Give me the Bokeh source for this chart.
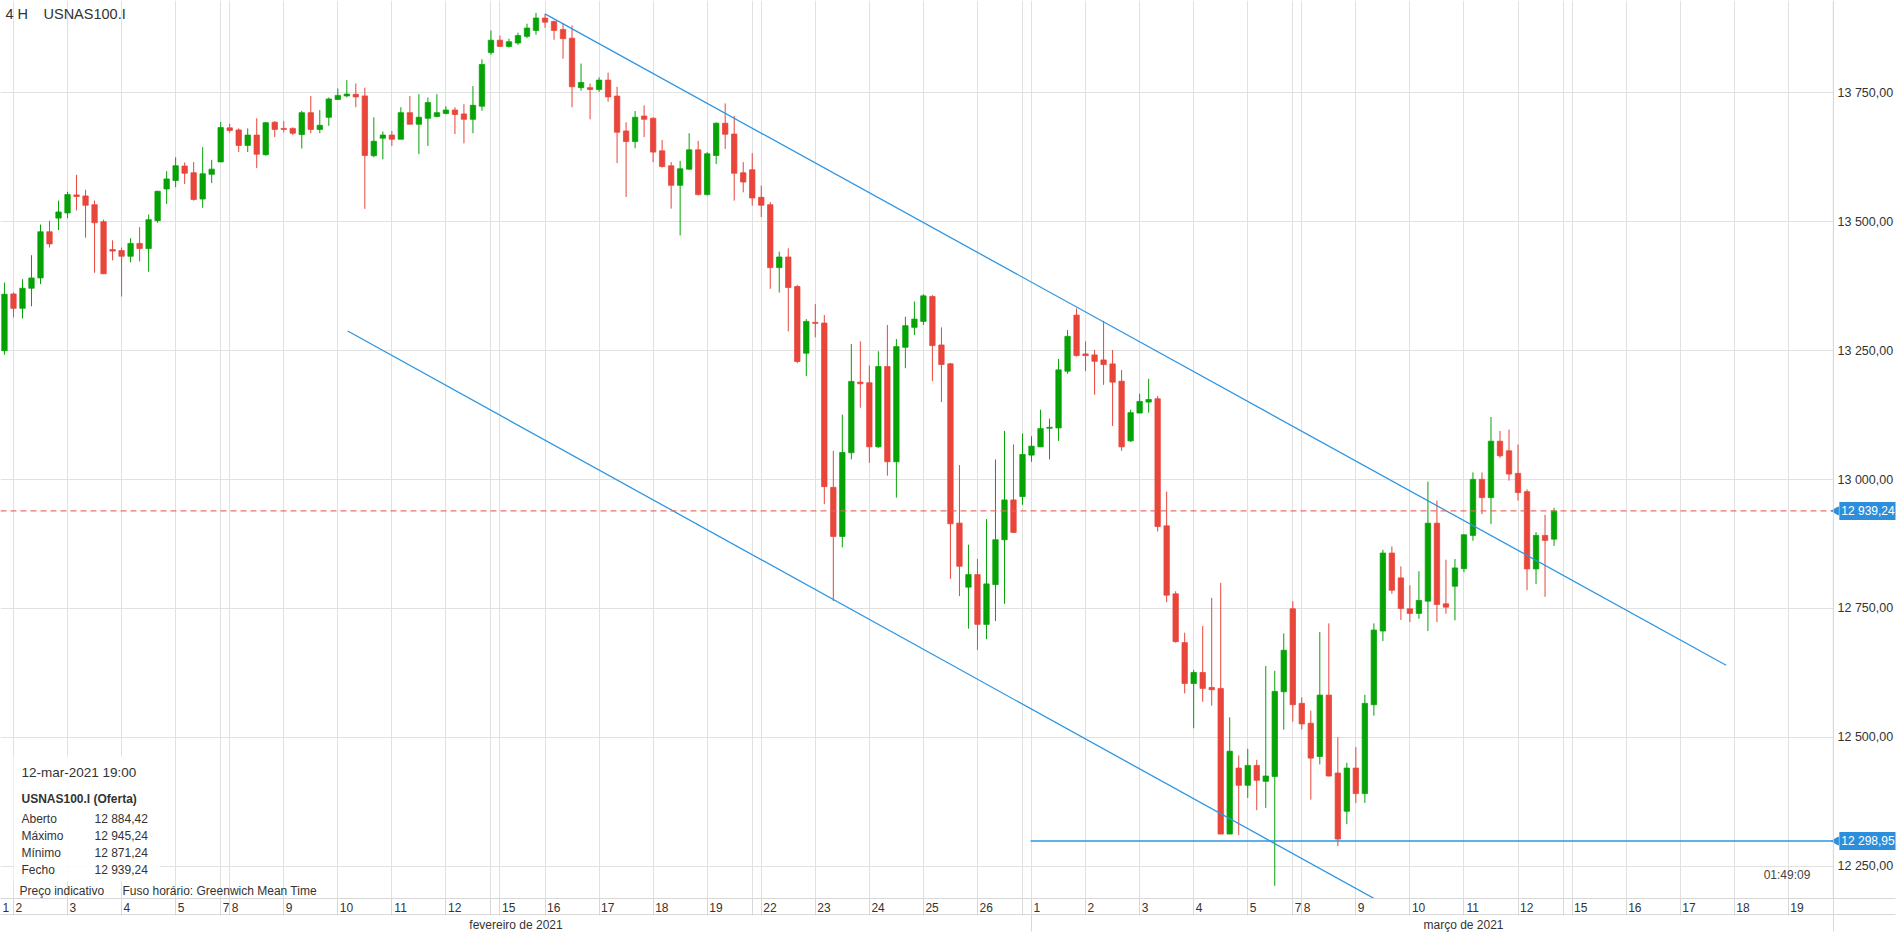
import numpy as np
from bokeh.plotting import figure
from bokeh.models import (Range1d, FixedTicker, LinearAxis, Label, Span,
                          BoxAnnotation, ColumnDataSource)
from bokeh.embed import file_html
from bokeh.resources import INLINE

FONT = "Liberation Sans"

# ---------------- data (4H candles, USNAS100.I, 1 Feb 23:00 -> 12 Mar 19:00) -------------
opens = [13250, 13360, 13332, 13371, 13391, 13480.5, 13507, 13517, 13552, 13550,
         13533, 13500, 13446, 13444, 13433, 13458, 13448, 13502, 13563.5, 13580,
         13608, 13595, 13544, 13592, 13616, 13682, 13678, 13648, 13668, 13630,
         13693, 13681, 13681, 13669, 13711.5, 13679, 13702.5, 13737, 13744, 13747,
         13744, 13628, 13662, 13668, 13660, 13711.5, 13689, 13700.6, 13704, 13710,
         13716.6, 13709, 13698.6, 13724, 13828, 13852, 13840, 13846.6, 13859.5, 13871,
         13895, 13888.5, 13873, 13856, 13760, 13760, 13756.5, 13774.6, 13743.7, 13676,
         13655.5, 13705, 13700.6, 13637.5, 13608.5, 13570.6, 13602, 13639.4, 13552.6, 13628.5,
         13691, 13670, 13595, 13600.8, 13547.4, 13533, 13411, 13431.6, 13374.3, 13245,
         13304.8, 13303.5, 12985, 12889.7, 13052, 13189, 13187.7, 13063.5, 13219.2, 13034.5,
         13256.5, 13295.2, 13306.7, 13355, 13261, 13224.4, 12915.5, 12791.3, 12815.7, 12719.2,
         12796.4, 12883.3, 12960.5, 12967, 13047.4, 13063.4, 13099.4, 13100.1, 13210.1, 13318.9,
         13243.6, 13241.7, 13232, 13224.3, 13190.8, 13075, 13129, 13150.3, 13156.7, 12910.3,
         12778.4, 12683.8, 12604.6, 12625.9, 12596.9, 12595, 12312.5, 12440.5, 12407.1, 12445.7,
         12414.8, 12424.4, 12588.5, 12749.4, 12566, 12527.4, 12463, 12582.1, 12430.9, 12356.9,
         12440.5, 12391, 12563.4, 12706.3, 12857.5, 12809.3, 12749.4, 12740.4, 12764.2, 12915.4,
         12759.1, 12793.2, 12827.3, 12891.7, 13000.4, 12965, 13074.4, 13055.8, 13012, 12976.6,
         12826.7, 12891.7, 12884.42]
highs = [13382, 13363, 13388.5, 13435, 13494.6, 13502, 13541, 13558, 13591, 13562,
         13541, 13504, 13464, 13450, 13468, 13489.5, 13514, 13560, 13598, 13625,
         13615, 13616, 13644.6, 13620, 13693.5, 13690, 13681, 13681, 13700.6, 13693.5,
         13695, 13695, 13683, 13715, 13743.7, 13716.6, 13741, 13758.5, 13774.6, 13768,
         13760, 13702.5, 13675, 13676, 13722, 13743.7, 13747.5, 13741, 13747.5, 13724,
         13722, 13728, 13763, 13815, 13871, 13861, 13855, 13866.6, 13884, 13905,
         13903, 13890, 13885, 13880.7, 13806.7, 13768, 13780, 13789, 13761.7, 13692.8,
         13714.7, 13725.7, 13702.5, 13658.7, 13615.6, 13618, 13671.6, 13656.8, 13635, 13692.8,
         13729.5, 13705, 13615.6, 13633, 13570, 13538, 13442, 13448.3, 13377.5, 13311.2,
         13340.2, 13319, 13055.8, 13125.9, 13263, 13268, 13221, 13248.8, 13299.7, 13272.6,
         13315.7, 13345.3, 13359.5, 13357.6, 13295.2, 13226.3, 13028.1, 12873.7, 12846, 12923.2,
         13039, 13094.4, 13068, 13089.2, 13084, 13135.5, 13118.1, 13233.9, 13289.9, 13331.8,
         13268, 13251.3, 13307.9, 13251.3, 13212.7, 13135.5, 13166.4, 13195.3, 13161.9, 12976.6,
         12783.5, 12703.1, 12631, 12715.9, 12770.6, 12799.6, 12539, 12465, 12477.8, 12456.6,
         12638.7, 12629.1, 12701.8, 12764.2, 12577.6, 12551.8, 12704.4, 12721.1, 12500.4, 12450.8,
         12481.1, 12582.7, 12721.1, 12863.9, 12870.4, 12831.8, 12795.1, 12822.1, 12995.9, 12959.2,
         12844.6, 12845.9, 12894.2, 13013.9, 13013.9, 13121.4, 13094.4, 13096.9, 13068, 12981.1,
         12898.1, 12931.6, 12945.24]
lows = [13242, 13314.5, 13312.5, 13336, 13379, 13450, 13484, 13507, 13522, 13469,
        13401, 13399, 13425, 13355, 13421, 13423, 13403, 13498, 13534.5, 13567,
        13573, 13541, 13527, 13575, 13616, 13673, 13635, 13635, 13604, 13628,
        13664, 13673, 13668, 13642, 13671.6, 13671.6, 13686, 13736, 13741, 13722,
        13525, 13625, 13621, 13647, 13660, 13689, 13631, 13647, 13702.5, 13708,
        13670, 13652, 13671.6, 13715, 13824, 13839, 13837.6, 13843, 13856, 13862.7,
        13876, 13853, 13816, 13722, 13754, 13698.6, 13752, 13732.7, 13613.7, 13548,
        13642.6, 13664, 13615.6, 13605, 13525.5, 13473.4, 13600.8, 13551, 13551, 13612,
        13641, 13541, 13557, 13531, 13509, 13370, 13362.7, 13287.4, 13225.7, 13200.6,
        13275.9, 12952.2, 12764.3, 12868.5, 13039, 13139.4, 13032.6, 13061.6, 13007.5, 12965,
        13216, 13280.4, 13299.7, 13190.9, 13150.4, 12807.4, 12773.9, 12710.9, 12669.7, 12690.3,
        12725.7, 12759.1, 12896.2, 12950.9, 13034.5, 13063.4, 13039, 13075, 13205, 13238.4,
        13210.1, 13164.4, 13183.7, 13104, 13055.7, 13073.1, 13129, 13129.7, 12899.3, 12762.3,
        12683.8, 12585.3, 12517.7, 12569.2, 12561.5, 12312.5, 12312.5, 12310.5, 12382.6, 12358.8,
        12363.3, 12212.1, 12515.2, 12530.6, 12515.2, 12379.4, 12447.6, 12424.4, 12289.3, 12331.8,
        12373, 12373, 12542.2, 12687, 12778.4, 12727.5, 12723.7, 12730.1, 12706.3, 12723.7,
        12739.8, 12726.9, 12820.2, 12881.4, 12932.9, 12913.5, 13042.2, 12997.8, 12959.2, 12785.5,
        12797.7, 12772.6, 12871.24]
closes = [13359.5, 13332, 13371, 13391, 13480.5, 13457, 13519, 13552.6, 13549, 13532,
          13498, 13399, 13443, 13433, 13458, 13448, 13504, 13559, 13583, 13608.5,
          13594, 13543, 13593, 13602, 13682.5, 13677, 13648, 13668, 13631, 13692,
          13679, 13679, 13671.6, 13711.5, 13679, 13687, 13738, 13745, 13747.5, 13742,
          13628.5, 13656, 13668, 13660, 13711.5, 13689, 13702.5, 13731, 13711.5, 13716.6,
          13708, 13698.6, 13725.7, 13805, 13852, 13840, 13849, 13861, 13875.6, 13895,
          13887, 13871, 13855, 13761.7, 13770, 13756.5, 13774.6, 13742, 13673.5, 13655.5,
          13702.5, 13698.6, 13635, 13607, 13570.6, 13602.7, 13639.4, 13552.6, 13631.7, 13691,
          13669.7, 13594, 13577, 13546, 13532, 13411, 13431.6, 13372.4, 13228.9, 13306.7,
          13302.9, 12986.3, 12889.7, 13052.6, 13190.3, 13185.8, 13063.5, 13219.2, 13034.5, 13257.8,
          13298.4, 13311.2, 13356.3, 13259.8, 13223.1, 12914.2, 12831.8, 12815.7, 12719.2, 12797.7,
          12883.3, 12960.5, 12897.5, 13048.7, 13064.8, 13098.8, 13101.4, 13212.7, 13277.7, 13240.4,
          13240.4, 13229.4, 13223, 13188.9, 13063.4, 13129.7, 13151.6, 13155.4, 12909, 12775.8,
          12685.7, 12604.6, 12625.9, 12595, 12592.4, 12312.5, 12473.3, 12407.1, 12445.7, 12416.7,
          12425.1, 12589.2, 12669, 12563.4, 12526.1, 12459.8, 12582.1, 12425.1, 12302.8, 12440.5,
          12391, 12566, 12708.2, 12857.5, 12785.4, 12750, 12740.4, 12765.5, 12915.4, 12757.8,
          12752.6, 12828.6, 12892.9, 13000.4, 12965, 13074.4, 13046.1, 13010.7, 12974.7, 12826.7,
          12891.7, 12882, 12939.24]

# trading days shown on the axis (label, number of 4H candles in that day)
day_labels = ["1", "2", "3", "4", "5", "7", "8", "9", "10", "11", "12", "", "15", "16",
              "17", "18", "19", "", "22", "23", "24", "25", "26", "",
              "1", "2", "3", "4", "5", "7", "8", "9", "10", "11", "12", "", "15", "16",
              "17", "18", "19"]
day_counts = [6, 6, 6, 6, 5, 1, 6, 6, 6, 6, 5, 1, 5, 6, 6, 6, 5, 1, 6, 6, 6, 6, 5, 1,
              6, 6, 6, 6, 5, 1, 6, 6, 6, 6, 5, 1, 6, 6, 6, 6, 6]
first_day_offset = -5          # Feb 1: only its last candle is visible
month_labels = ["fevereiro de 2021", "março de 2021"]
month_first_day = [0, 24]      # position in day list where each month starts

price_ticks = [12250, 12500, 12750, 13000, 13250, 13500, 13750]

# drawn objects
upper_trend_x = [60.0, 191.1]
upper_trend_y = [13903.0, 12640.0]
lower_trend_x = [38.1, 152.4]
lower_trend_y = [13288.0, 12184.0]
support_start = 113.9
support_level = 12298.95

header_period = "4 H"
symbol = "USNAS100.I"
last_time = "12-mar-2021 19:00"
countdown = "01:49:09"

# ---------------- helpers ----------------
def fmt(v):
    return f"{v:,.2f}".replace(",", " ").replace(".", ",")

GREEN = "#05a305"
RED = "#e8453b"
BLUE = "#2e96e2"
TAG = "#2d8fdb"
GRID = "#e1e1e1"
BORDER = "#d2d2d2"
TXT = "#333333"

x_start, x_border, x_end = -0.44, 203.0, 209.9   # x_border = right edge of the price area
y_start, y_end = 12187.6, 13929.0

day_starts = [float(d) for d in
              first_day_offset + np.concatenate([[0], np.cumsum(day_counts[:-1])])]
visible_starts = [d for d in day_starts if d > x_start]

p = figure(width=1896, height=934, x_range=Range1d(x_start, x_end),
           y_range=Range1d(y_start, y_end), output_backend="svg",
           toolbar_location=None, y_axis_location="right",
           min_border_left=0, min_border_right=0, min_border_top=0, min_border_bottom=0,
           background_fill_color="white", border_fill_color="white")
p.outline_line_color = None

# grid
p.xgrid.ticker = FixedTicker(ticks=visible_starts)
p.ygrid.ticker = FixedTicker(ticks=price_ticks)
p.grid.grid_line_color = GRID
p.grid.grid_line_width = 1

# white panel behind the price scale (covers the grid right of the border)
p.add_layout(BoxAnnotation(left=x_border, fill_color="white", fill_alpha=1.0,
                           line_color=None, level="underlay"))
p.add_layout(Span(location=x_border, dimension="height", line_color=BORDER, line_width=1))

# y axis (right) - labels drawn back over the white price panel
yax = p.yaxis[0]
yax.ticker = FixedTicker(ticks=price_ticks)
yax.major_label_overrides = {v: fmt(v) for v in price_ticks}
yax.major_tick_out = 0
yax.major_tick_in = 0
yax.minor_tick_out = 0
yax.minor_tick_in = 0
yax.major_label_standoff = -58
yax.axis_line_color = None
yax.major_label_text_font = FONT
yax.major_label_text_font_size = "12.5px"
yax.major_label_text_color = TXT

# x axis: day numbers
ppi = 9.0
label_pos, label_txt = [], []
for s, lab in zip(day_starts, day_labels):
    if not lab:
        continue
    left = max(s, x_start)
    w = len(lab) * 6.7
    pos = round(left + (2.0 + w / 2) / ppi, 3)
    label_pos.append(pos)
    label_txt.append(lab)

xax = p.xaxis[0]
xax.ticker = FixedTicker(ticks=label_pos, minor_ticks=visible_starts + [x_border])
xax.major_label_overrides = dict(zip(label_pos, label_txt))

mar_start = day_starts[month_first_day[1]]
month_pos = [round((x_start + mar_start) / 2, 3), round((mar_start + x_end) / 2, 3)]
max_ = LinearAxis(ticker=FixedTicker(ticks=month_pos, minor_ticks=[mar_start, x_border]),
                  major_label_overrides=dict(zip(month_pos, month_labels)))
p.add_layout(max_, "below")

for ax, stand in [(xax, -12), (max_, -13)]:
    ax.major_tick_out = 0
    ax.major_tick_in = 0
    ax.minor_tick_in = 0
    ax.minor_tick_out = 17
    ax.minor_tick_line_color = "#d8d8d8"
    ax.axis_line_color = "#d8d8d8"
    ax.major_label_standoff = stand - 1
    ax.major_label_text_font = FONT
    ax.major_label_text_font_size = "12px"
    ax.major_label_text_color = TXT

# candles
o = np.array(opens); h = np.array(highs); l = np.array(lows); c = np.array(closes)
idx = np.arange(len(o))
colors = [GREEN if cc >= oo else RED for oo, cc in zip(o, c)]
src = ColumnDataSource(dict(x=idx, top=np.maximum(o, c), bottom=np.minimum(o, c),
                            high=h, low=l, color=colors))
p.segment(x0="x", y0="high", x1="x", y1="low", line_color="color", line_width=1, source=src)
p.vbar(x="x", width=0.6, top="top", bottom="bottom", fill_color="color",
       line_color="color", line_width=1, line_alpha=0.75, source=src)

# trend lines / levels
p.line(upper_trend_x, upper_trend_y, line_color=BLUE, line_width=1.3)
p.line(lower_trend_x, lower_trend_y, line_color=BLUE, line_width=1.3)
p.segment(x0=[support_start], y0=[support_level], x1=[x_border], y1=[support_level],
          line_color=BLUE, line_width=1.5)
p.segment(x0=[x_start], y0=[closes[-1]], x1=[x_border], y1=[closes[-1]],
          line_color="#e8625a", line_dash="6 4", line_width=1.3, line_alpha=0.9)

# price tags on the scale
for lvl in [closes[-1], support_level]:
    p.scatter(x=[x_border + 0.3], y=[lvl], marker="triangle", angle=np.pi / 2, size=8,
              fill_color=TAG, line_color=TAG)
    p.add_layout(Label(x=x_border, y=lvl, x_offset=6, text=fmt(lvl), text_color="white",
                       text_font=FONT, text_font_size="12px", text_baseline="middle",
                       text_align="left", background_fill_color=TAG, padding=2))

# header
p.add_layout(Label(x=5, x_units="screen", y=y_end, y_offset=-13, text=header_period,
                   text_font=FONT, text_font_size="14.5px", text_color=TXT,
                   text_baseline="middle"))
p.add_layout(Label(x=43, x_units="screen", y=y_end, y_offset=-13, text=symbol,
                   text_font=FONT, text_font_size="14.5px", text_color=TXT,
                   text_baseline="middle"))

# info box
p.add_layout(BoxAnnotation(left=13, right=160, top=142, bottom=17, left_units="screen",
                           right_units="screen", top_units="screen", bottom_units="screen",
                           fill_color="white", fill_alpha=0.85, line_color=None))
info_rows = [("Aberto", opens[-1]), ("Máximo", highs[-1]), ("Mínimo", lows[-1]),
             ("Fecho", closes[-1])]
p.add_layout(Label(x=21, y=126, x_units="screen", y_units="screen", text=last_time,
                   text_font=FONT, text_font_size="13.5px", text_color=TXT,
                   text_baseline="middle"))
p.add_layout(Label(x=21, y=100, x_units="screen", y_units="screen",
                   text=f"{symbol} (Oferta)", text_font=FONT, text_font_size="12px",
                   text_font_style="bold", text_color=TXT, text_baseline="middle"))
for k, (name, val) in enumerate(info_rows):
    yy = 80 - k * 17.3
    p.add_layout(Label(x=21, y=yy, x_units="screen", y_units="screen", text=name,
                       text_font=FONT, text_font_size="12px", text_color=TXT,
                       text_baseline="middle"))
    p.add_layout(Label(x=94, y=yy, x_units="screen", y_units="screen", text=fmt(val),
                       text_font=FONT, text_font_size="12px", text_color=TXT,
                       text_baseline="middle"))
p.add_layout(Label(x=19, y=8, x_units="screen", y_units="screen", text="Preço indicativo",
                   text_font=FONT, text_font_size="12px", text_color=TXT,
                   text_baseline="middle"))
p.add_layout(Label(x=122, y=8, x_units="screen", y_units="screen",
                   text="Fuso horário: Greenwich Mean Time",
                   text_font=FONT, text_font_size="12px", text_color=TXT,
                   text_baseline="middle"))
p.add_layout(Label(x=x_border, x_offset=-23, y=24, y_units="screen", text=countdown,
                   text_font=FONT, text_font_size="12px", text_color="#444444",
                   text_baseline="middle", text_align="right"))

open("out.html", "w").write(file_html(p, INLINE))
